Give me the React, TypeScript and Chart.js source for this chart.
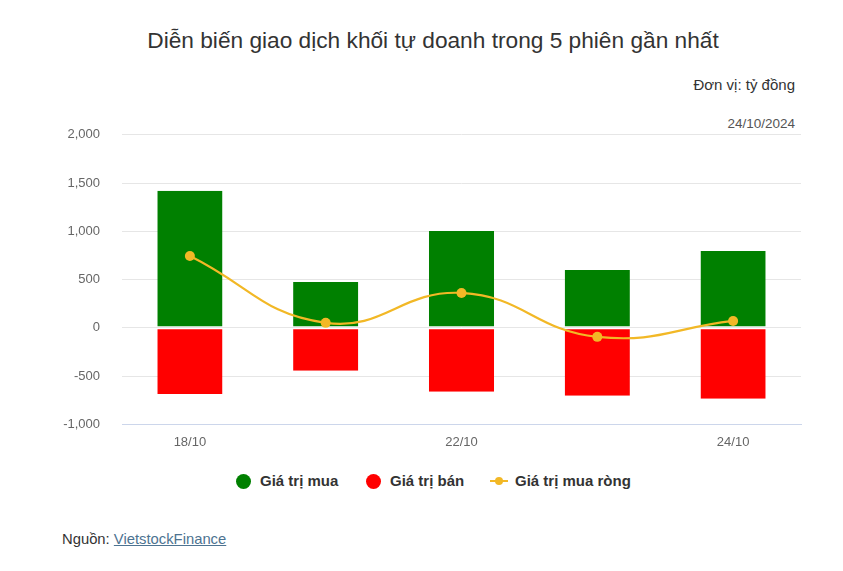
import React, { useEffect, useRef } from "react";
import { Chart, registerables } from "chart.js";

Chart.register(...registerables);

const categories = ["18/10", "21/10", "22/10", "23/10", "24/10"];
const buyValues = [1420, 476, 1004, 600, 797];
const sellValues = [-685, -445, -662, -704, -735];
const netValues = [745, 52, 362, -93, 72];
const yTicks = [-1000, -500, 0, 500, 1000, 1500, 2000];
const shownTickIndexes = [0, 2, 4];

const FONT = "'Liberation Sans', Arial, sans-serif";
const GREEN = "#008000";
const RED = "#ff0000";
const YELLOW = "#f2b826";

export default function App() {
  const ref = useRef<HTMLCanvasElement | null>(null);

  useEffect(() => {
    if (!ref.current) return;
    const chart = new Chart(ref.current, {
      type: "bar",
      data: {
        labels: categories,
        datasets: [
          {
            type: "line",
            label: "Giá trị mua ròng",
            data: netValues,
            borderColor: YELLOW,
            backgroundColor: YELLOW,
            borderWidth: 2.2,
            tension: 0.45,
            pointRadius: 5,
            pointHoverRadius: 5,
            pointBackgroundColor: YELLOW,
            pointBorderWidth: 0,
            order: 0,
          } as any,
          {
            type: "bar",
            label: "Giá trị mua",
            data: buyValues,
            backgroundColor: GREEN,
            borderColor: "#ffffff",
            borderWidth: { top: 0, left: 0, right: 0, bottom: 1 },
            borderSkipped: false,
            barPercentage: 0.8,
            categoryPercentage: 0.6,
            order: 1,
          },
          {
            type: "bar",
            label: "Giá trị bán",
            data: sellValues,
            backgroundColor: RED,
            borderColor: "#ffffff",
            borderWidth: { top: 1, left: 0, right: 0, bottom: 0 },
            borderSkipped: false,
            barPercentage: 0.8,
            categoryPercentage: 0.6,
            order: 1,
          },
        ],
      },
      options: {
        animation: false,
        responsive: false,
        maintainAspectRatio: false,
        layout: { padding: { left: 0, right: 42, top: 10, bottom: 0 } },
        plugins: {
          legend: { display: false },
          tooltip: { enabled: false },
          title: { display: false },
        },
        scales: {
          x: {
            stacked: true,
            grid: { display: false, drawTicks: false },
            border: { display: true, color: "#ccd6eb", width: 1 },
            ticks: {
              color: "#666666",
              font: { family: FONT, size: 13 },
              padding: 10,
              autoSkip: false,
              maxRotation: 0,
              callback: (_v: any, i: number) =>
                shownTickIndexes.includes(i) ? categories[i] : "",
            },
          },
          y: {
            stacked: false,
            min: yTicks[0],
            max: yTicks[yTicks.length - 1],
            afterFit: (scale: any) => {
              scale.width = 122;
            },
            afterBuildTicks: (scale: any) => {
              scale.ticks = yTicks.map((v) => ({ value: v }));
            },
            grid: { color: "#e6e6e6", drawTicks: false },
            border: { display: false },
            ticks: {
              color: "#666666",
              font: { family: FONT, size: 13 },
              padding: 22,
            },
          },
        },
      },
    });
    return () => chart.destroy();
  }, []);

  const legendText: React.CSSProperties = {
    fontFamily: FONT,
    fontSize: 15,
    fontWeight: "bold",
    color: "#333333",
    position: "absolute",
    top: 472,
    whiteSpace: "nowrap",
  };
  const dot = (color: string, left: number): React.CSSProperties => ({
    position: "absolute",
    left,
    top: 474,
    width: 15,
    height: 15,
    borderRadius: "50%",
    background: color,
  });

  return (
    <div
      style={{
        position: "absolute",
        left: 0,
        top: 0,
        width: 843,
        height: 571,
        background: "#ffffff",
        overflow: "hidden",
        fontFamily: FONT,
      }}
    >
      <div
        style={{
          position: "absolute",
          left: 0,
          width: 866,
          top: 27,
          textAlign: "center",
          fontSize: 22.7,
          color: "#333333",
          whiteSpace: "nowrap",
        }}
      >
        Diễn biến giao dịch khối tự doanh trong 5 phiên gần nhất
      </div>
      <div
        style={{
          position: "absolute",
          right: 48,
          top: 76,
          fontSize: 15,
          color: "#333333",
          whiteSpace: "nowrap",
        }}
      >
        Đơn vị: tỷ đồng
      </div>
      <div
        style={{
          position: "absolute",
          right: 48,
          top: 116,
          fontSize: 13.5,
          color: "#555555",
          whiteSpace: "nowrap",
        }}
      >
        24/10/2024
      </div>
      <canvas
        ref={ref}
        width={843}
        height={355}
        style={{ position: "absolute", left: 0, top: 105, width: 843, height: 355 }}
      />
      <div style={dot(GREEN, 236)} />
      <div style={{ ...legendText, left: 260 }}>Giá trị mua</div>
      <div style={dot(RED, 366)} />
      <div style={{ ...legendText, left: 390 }}>Giá trị bán</div>
      <div
        style={{
          position: "absolute",
          left: 490,
          top: 480,
          width: 18,
          height: 2,
          background: YELLOW,
        }}
      />
      <div
        style={{
          position: "absolute",
          left: 495,
          top: 477,
          width: 8,
          height: 8,
          borderRadius: "50%",
          background: YELLOW,
        }}
      />
      <div style={{ ...legendText, left: 515 }}>Giá trị mua ròng</div>
      <div
        style={{
          position: "absolute",
          left: 62,
          top: 531,
          fontSize: 14.8,
          color: "#333333",
          whiteSpace: "nowrap",
        }}
      >
        Nguồn:{" "}
        <a href="#" style={{ color: "#4d7391", textDecoration: "underline" }}>
          VietstockFinance
        </a>
      </div>
    </div>
  );
}
